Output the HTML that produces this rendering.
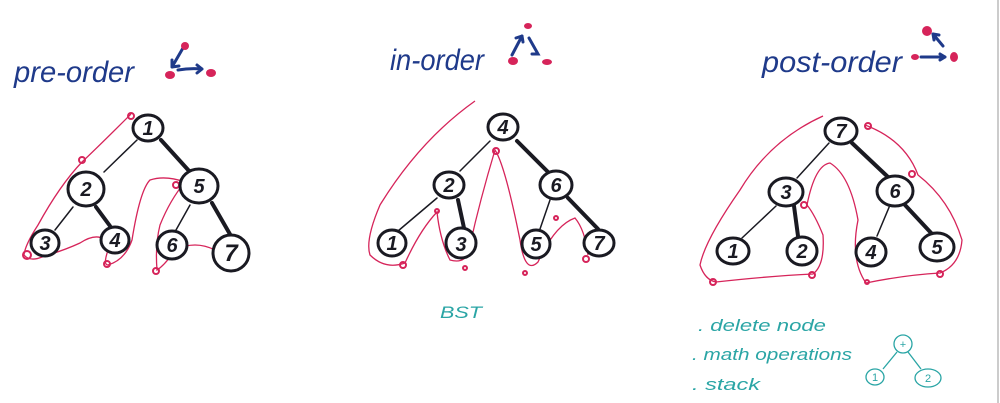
<!DOCTYPE html>
<html><head><meta charset="utf-8"><style>
html,body{margin:0;padding:0;background:#fff;}
svg{display:block}
.t{font-family:"Liberation Sans",sans-serif;}
</style></head><body>
<svg width="1000" height="403" viewBox="0 0 1000 403" xmlns="http://www.w3.org/2000/svg">
<rect width="1000" height="403" fill="#fff"/>
<line x1="998" y1="0" x2="998" y2="403" stroke="#bbb" stroke-width="1.5"/>

<!-- titles -->
<g class="t" fill="#1f3a8a" font-style="italic" font-size="30">
<text x="14" y="82" textLength="120" lengthAdjust="spacingAndGlyphs">pre-order</text>
<text x="390" y="70" textLength="94" lengthAdjust="spacingAndGlyphs">in-order</text>
<text x="762" y="72" textLength="140" lengthAdjust="spacingAndGlyphs">post-order</text>
</g>
<!-- title icons -->
<g stroke="#1f3a8a" stroke-width="3" fill="none" stroke-linecap="round">
<path d="M183 48 L172 67 M172 67 l7 -1 M172 67 l0 -7"/>
<path d="M178 70 Q190 68 202 69 M202 69 l-5 -4 M202 69 l-5 4"/>
<path d="M522 36 L512 55 M522 36 l-6 2 M522 36 l1 6 M529 38 L538 54 l-6 0"/>
<path d="M921 57 L945 57 M945 57 l-5 -3 M945 57 l-5 3 M943 46 L933 34 M933 34 l1 6 M933 34 l6 1"/>
</g>
<g fill="#d6245a">
<ellipse cx="185" cy="46" rx="4" ry="4"/><ellipse cx="170" cy="75" rx="5" ry="4"/><ellipse cx="211" cy="73" rx="5" ry="4"/>
<ellipse cx="528" cy="26" rx="4" ry="3"/><ellipse cx="513" cy="61" rx="5" ry="4"/><ellipse cx="547" cy="62" rx="5" ry="3"/>
<ellipse cx="927" cy="31" rx="5" ry="5"/><ellipse cx="915" cy="57" rx="4" ry="3"/><ellipse cx="954" cy="57" rx="4" ry="5"/>
</g>

<!-- red outlines -->
<g stroke="#d6245a" stroke-width="1.3" fill="none">
<path d="M131 114 Q100 145 82 162 Q60 185 38 225 Q25 245 24 255 Q30 262 42 257 Q65 250 80 243 Q100 230 110 245 Q102 265 108 265 Q125 260 132 240 Q140 190 150 180 Q165 175 185 182 Q170 200 160 225 Q155 245 157 270 Q165 265 175 250 Q195 240 215 250"/>
<path d="M475 101 Q420 140 380 205 Q365 240 370 255 Q385 270 405 263 Q420 230 437 212 Q440 240 450 260 Q468 265 470 245 Q480 200 495 150 Q505 165 520 240 Q525 275 538 262 Q555 225 575 218 Q585 230 588 255"/>
<path d="M823 116 Q770 140 740 190 Q705 240 700 265 Q705 280 716 282 Q770 276 813 274 Q825 265 823 235 Q815 215 807 205 Q815 165 830 163 Q850 175 858 220 Q850 260 866 283 Q905 275 940 273 Q960 265 962 240 Q950 200 918 175 Q905 140 865 125"/>
</g>
<g fill="none" stroke="#d6245a" stroke-width="2">
<circle cx="131" cy="116" r="3"/><circle cx="82" cy="160" r="3"/><circle cx="27" cy="255" r="4"/><circle cx="107" cy="264" r="3"/><circle cx="176" cy="185" r="3"/><circle cx="156" cy="271" r="3"/><circle cx="216" cy="251" r="3"/>
<circle cx="496" cy="151" r="3"/><circle cx="437" cy="211" r="2"/><circle cx="403" cy="265" r="3"/><circle cx="465" cy="268" r="2"/><circle cx="525" cy="273" r="2"/><circle cx="556" cy="218" r="2"/><circle cx="586" cy="259" r="3"/>
<circle cx="868" cy="126" r="3"/><circle cx="912" cy="174" r="3"/><circle cx="804" cy="205" r="3"/><circle cx="713" cy="282" r="3"/><circle cx="812" cy="275" r="3"/><circle cx="867" cy="282" r="2"/><circle cx="940" cy="274" r="3"/>
</g>

<!-- tree edges -->
<g stroke="#1a1a22" stroke-linecap="round" fill="none">
<path d="M137 140 L104 172" stroke-width="1.5"/><path d="M161 140 L190 172" stroke-width="4"/>
<path d="M73 207 L55 230" stroke-width="1.5"/><path d="M96 207 L110 226" stroke-width="4"/>
<path d="M190 205 L176 230" stroke-width="1.5"/><path d="M212 203 L231 236" stroke-width="4"/>
<path d="M490 141 L460 171" stroke-width="1.5"/><path d="M517 141 L548 172" stroke-width="4"/>
<path d="M437 198 L398 231" stroke-width="1.5"/><path d="M458 200 L464 228" stroke-width="4"/>
<path d="M550 200 L540 229" stroke-width="1.5"/><path d="M568 198 L598 229" stroke-width="4"/>
<path d="M829 143 L797 178" stroke-width="1.5"/><path d="M852 143 L888 177" stroke-width="4"/>
<path d="M776 206 L742 238" stroke-width="1.5"/><path d="M794 206 L798 236" stroke-width="4"/>
<path d="M890 205 L877 236" stroke-width="1.5"/><path d="M905 205 L933 235" stroke-width="4"/>
</g>
<!-- nodes -->
<g stroke="#1a1a22" stroke-width="3" fill="#fff">
<ellipse cx="148" cy="128" rx="15" ry="13"/><ellipse cx="86" cy="189" rx="18" ry="17"/><ellipse cx="199" cy="186" rx="19" ry="17"/>
<ellipse cx="45" cy="243" rx="14" ry="13"/><ellipse cx="115" cy="240" rx="14" ry="13"/><ellipse cx="172" cy="245" rx="15" ry="14"/><ellipse cx="231" cy="253" rx="18" ry="18"/>
<ellipse cx="503" cy="127" rx="15" ry="13"/><ellipse cx="449" cy="185" rx="15" ry="13"/><ellipse cx="556" cy="185" rx="16" ry="14"/>
<ellipse cx="392" cy="243" rx="14" ry="13"/><ellipse cx="461" cy="243" rx="15" ry="15"/><ellipse cx="536" cy="244" rx="14" ry="14"/><ellipse cx="599" cy="243" rx="15" ry="13"/>
<ellipse cx="841" cy="131" rx="16" ry="13"/><ellipse cx="786" cy="192" rx="17" ry="14"/><ellipse cx="895" cy="191" rx="18" ry="15"/>
<ellipse cx="733" cy="251" rx="16" ry="13"/><ellipse cx="802" cy="251" rx="15" ry="14"/><ellipse cx="871" cy="252" rx="15" ry="14"/><ellipse cx="937" cy="247" rx="17" ry="14"/>
</g>
<g class="t" fill="#1a1a22" font-size="20" font-style="italic" font-weight="bold" text-anchor="middle">
<text x="148" y="135">1</text><text x="86" y="196">2</text><text x="199" y="193">5</text><text x="45" y="250">3</text><text x="115" y="247">4</text><text x="172" y="252">6</text><text x="231" y="261" font-size="24">7</text>
<text x="503" y="134">4</text><text x="449" y="192">2</text><text x="556" y="192">6</text><text x="392" y="250">1</text><text x="461" y="251">3</text><text x="536" y="251">5</text><text x="599" y="250">7</text>
<text x="841" y="138">7</text><text x="786" y="199">3</text><text x="895" y="198">6</text><text x="733" y="258">1</text><text x="802" y="258">2</text><text x="871" y="259">4</text><text x="937" y="254">5</text>
</g>

<!-- teal notes -->
<g class="t" fill="#2aa5a5" font-size="17" font-style="italic">
<text x="440" y="318" textLength="42" lengthAdjust="spacingAndGlyphs">BST</text>
<text x="698" y="331" textLength="128" lengthAdjust="spacingAndGlyphs">. delete node</text>
<text x="692" y="360" textLength="160" lengthAdjust="spacingAndGlyphs">. math operations</text>
<text x="692" y="390" textLength="68" lengthAdjust="spacingAndGlyphs">. stack</text>
</g>
<g stroke="#2aa5a5" stroke-width="1.3" fill="none">
<ellipse cx="903" cy="344" rx="9" ry="9"/><ellipse cx="875" cy="377" rx="9" ry="8"/><ellipse cx="928" cy="378" rx="13" ry="9"/>
<path d="M897 352 L883 369 M908 352 L921 369"/>
</g>
<g class="t" fill="#2aa5a5" font-size="11" text-anchor="middle">
<text x="903" y="348">+</text><text x="875" y="381">1</text><text x="928" y="382">2</text>
</g>
</svg>
</body></html>
